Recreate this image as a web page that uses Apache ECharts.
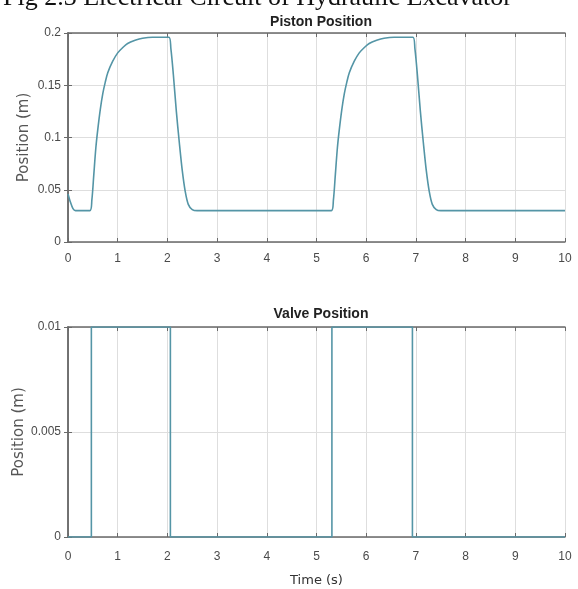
<!DOCTYPE html>
<html>
<head>
<meta charset="utf-8">
<script src="https://cdn.jsdelivr.net/npm/echarts@6/dist/echarts.min.js"></script>
<style>
  html, body { margin: 0; padding: 0; background: #fff; }
  #chart { width: 578px; height: 589px; }
</style>
</head>
<body>
<div id="chart"></div>
<script>
// piston position (m) vs time (s)
const pistonT = [0, 0.05, 0.1, 0.15, 0.44, 0.48, 0.52, 0.56, 0.6, 0.65, 0.7, 0.75, 0.8, 0.9, 1.0, 1.1, 1.2, 1.35, 1.5, 1.7, 2.03,
  2.07, 2.12, 2.18, 2.24, 2.3, 2.36, 2.42, 2.5, 2.6, 5.3,
  5.34, 5.38, 5.42, 5.46, 5.51, 5.56, 5.61, 5.66, 5.76, 5.86, 5.96, 6.06, 6.21, 6.36, 6.56, 6.94,
  6.98, 7.03, 7.09, 7.15, 7.21, 7.27, 7.33, 7.41, 7.5, 10];
const pistonY = [0.046, 0.038, 0.032, 0.030, 0.030, 0.040, 0.065, 0.090, 0.108, 0.127, 0.142, 0.153, 0.162, 0.173, 0.181, 0.186, 0.190, 0.193, 0.195, 0.196, 0.196,
  0.185, 0.160, 0.125, 0.095, 0.068, 0.048, 0.036, 0.031, 0.030, 0.030,
  0.040, 0.065, 0.090, 0.108, 0.127, 0.142, 0.153, 0.162, 0.173, 0.181, 0.186, 0.190, 0.193, 0.195, 0.196, 0.196,
  0.185, 0.160, 0.125, 0.095, 0.068, 0.048, 0.036, 0.031, 0.030, 0.030];

// valve position (m)
const valveT = [0, 0.47, 0.47, 2.06, 2.06, 5.31, 5.31, 6.93, 6.93, 10];
const valveY = [0, 0, 0.01, 0.01, 0, 0, 0.01, 0.01, 0, 0];

const pistonTicks = ['0', '0.05', '0.1', '0.15', '0.2'];
const valveTicks = ['0', '0.005', '0.01'];

const lineColor = '#5495a6';
const axisColor = '#6a6a6a';
const labelColor = '#4a4a4a';
const gridColor = '#dedede';

const chart = echarts.init(document.getElementById('chart'));

function pairs(xs, ys) {
  return xs.map((x, i) => [x, ys[i]]);
}

function xAxisCfg(gridIndex, withLabels, margin, name) {
  return {
    type: 'value', gridIndex: gridIndex, min: 0, max: 10, interval: 1,
    position: withLabels ? 'bottom' : 'top',
    name: name || '', nameLocation: 'middle', nameGap: 37,
    nameTextStyle: { color: '#333', fontSize: 13, fontFamily: 'DejaVu Sans' },
    axisLine: { show: true, onZero: false, lineStyle: { color: axisColor, width: 1.5 } },
    axisTick: { show: true, inside: true, length: 4, lineStyle: { color: axisColor } },
    axisLabel: { show: withLabels, color: labelColor, fontSize: 12, margin: margin, fontFamily: 'Liberation Sans' },
    splitLine: { show: withLabels, lineStyle: { color: gridColor, width: 1 } }
  };
}

function yAxisCfg(gridIndex, max, interval, withLabels, labels, gap) {
  return {
    type: 'value', gridIndex: gridIndex, min: 0, max: max, interval: interval,
    position: withLabels ? 'left' : 'right',
    name: withLabels ? 'Position (m)' : '', nameLocation: 'middle', nameGap: gap || 0,
    nameMoveOverlap: false,
    nameTextStyle: { color: '#555', fontSize: 15, fontFamily: 'DejaVu Sans' },
    axisLine: { show: true, lineStyle: { color: axisColor, width: 1.5 } },
    axisTick: { show: true, inside: true, length: 4, lineStyle: { color: axisColor } },
    axisLabel: {
      show: withLabels, color: labelColor, fontSize: 12, margin: 7, fontFamily: 'Liberation Sans',
      formatter: function (v) {
        const idx = Math.round(v / interval);
        return labels[idx] !== undefined ? labels[idx] : '';
      }
    },
    splitLine: { show: withLabels, lineStyle: { color: gridColor, width: 1 } }
  };
}

const option = {
  animation: false,
  backgroundColor: '#fff',
  title: [
    {
      text: 'Piston Position', left: 316, top: 10, textAlign: 'center',
      textStyle: { fontSize: 14, fontWeight: 'bold', color: '#222', fontFamily: 'Liberation Sans' }
    },
    {
      text: 'Valve Position', left: 316, top: 302, textAlign: 'center',
      textStyle: { fontSize: 14, fontWeight: 'bold', color: '#222', fontFamily: 'Liberation Sans' }
    }
  ],
  graphic: [
    {
      type: 'text', left: 3, top: -15,
      style: {
        text: 'Fig 2.3 Electrical Circuit of Hydraulic Excavator',
        font: '26px "Liberation Serif"', fill: '#111'
      }
    }
  ],
  grid: [
    { left: 68, right: 13, top: 33, height: 209, outerBoundsMode: 'none' },
    { left: 68, right: 13, top: 327, height: 210, outerBoundsMode: 'none' }
  ],
  xAxis: [
    xAxisCfg(0, true, 11),
    xAxisCfg(0, false, 0),
    xAxisCfg(1, true, 14, 'Time (s)'),
    xAxisCfg(1, false, 0)
  ],
  yAxis: [
    yAxisCfg(0, 0.2, 0.05, true, pistonTicks, 36),
    yAxisCfg(0, 0.2, 0.05, false, pistonTicks),
    yAxisCfg(1, 0.01, 0.005, true, valveTicks, 41),
    yAxisCfg(1, 0.01, 0.005, false, valveTicks)
  ],
  series: [
    {
      type: 'line', xAxisIndex: 0, yAxisIndex: 0,
      data: pairs(pistonT, pistonY), smooth: 0.3, showSymbol: false,
      lineStyle: { color: lineColor, width: 1.6 }
    },
    {
      type: 'line', xAxisIndex: 2, yAxisIndex: 2,
      data: pairs(valveT, valveY), showSymbol: false,
      lineStyle: { color: lineColor, width: 1.6 }
    }
  ]
};

chart.setOption(option);
window.addEventListener('resize', function () {
  chart.resize();
});
</script>
</body>
</html>
